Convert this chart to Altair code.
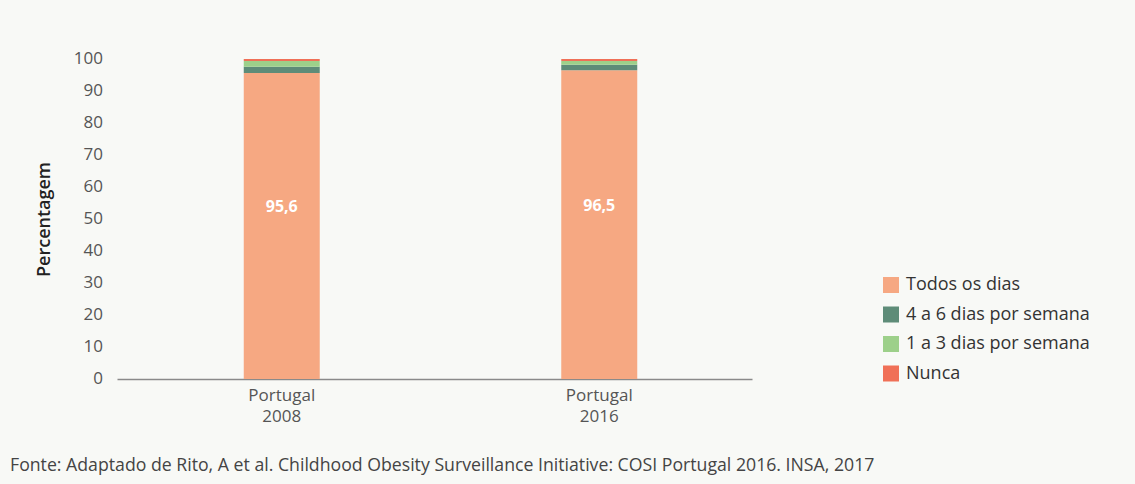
import altair as alt
import pandas as pd

groups = ["Portugal\n2008", "Portugal\n2016"]
categories = ["Todos os dias", "4 a 6 dias por semana", "1 a 3 dias por semana", "Nunca"]
colors = ["#F6A882", "#5E8C78", "#9DD08A", "#F07057"]
todos = [95.6, 96.5]
quatro_seis = [2.0, 1.7]
um_tres = [1.8, 1.2]
nunca = [0.6, 0.6]
y_ticks = list(range(0, 101, 10))

rows = []
for i, g in enumerate(groups):
    for k, (cat, vals) in enumerate(zip(categories, [todos, quatro_seis, um_tres, nunca])):
        rows.append({"grupo": g, "categoria": cat, "valor": vals[i], "ordem": k})
df = pd.DataFrame(rows)
lab = pd.DataFrame({"grupo": groups, "valor": todos,
                    "txt": [f"{v:.1f}".replace(".", ",") for v in todos]})
lab["meio"] = lab["valor"] / 2
ticks_df = pd.DataFrame({"t": y_ticks, "lbl": [str(v) for v in y_ticks]})

xscale = alt.Scale(paddingInner=0, paddingOuter=0)
xaxis = alt.Axis(labelExpr="split(datum.label, '\\n')", labelAngle=0,
                 labelFont="Open Sans", labelFontSize=17, labelColor="#555555",
                 labelLineHeight=21, labelPadding=8, ticks=False,
                 domainColor="#8A8A8A", domainWidth=1.5, labelOffset=6)
yscale = alt.Scale(domain=[0, 100], nice=False)
yaxis = alt.Axis(labels=False, grid=False, domain=False, ticks=False,
                 titleFont="Open Sans", titleFontSize=18,
                 titleFontWeight=600, titleColor="#222222", titlePadding=64)

bars = alt.Chart(df).mark_bar(size=76, xOffset=6).encode(
    x=alt.X("grupo:N", sort=groups, title=None, scale=xscale, axis=xaxis),
    y=alt.Y("valor:Q", stack="zero", title="Percentagem", scale=yscale, axis=yaxis),
    color=alt.Color("categoria:N", sort=categories, title=None,
                    scale=alt.Scale(domain=categories, range=colors),
                    legend=alt.Legend(orient="none", legendX=765, legendY=217,
                                      symbolType="square", symbolSize=256, symbolStrokeWidth=0,
                                      symbolOpacity=1, labelLimit=400,
                                      labelFont="Open Sans", labelFontSize=18, labelColor="#333333",
                                      rowPadding=11.5, labelOffset=6)),
    order=alt.Order("ordem:Q"),
)

ytick_labels = alt.Chart(ticks_df).mark_text(
    align="right", baseline="middle", font="Open Sans", fontSize=17, color="#555555",
).encode(
    x=alt.value(-14),
    y=alt.Y("t:Q", scale=yscale, axis=None),
    text="lbl:N",
)

texts = alt.Chart(lab).mark_text(color="white", font="Open Sans", fontSize=16,
                                 fontWeight="bold", dy=-19, dx=6).encode(
    x=alt.X("grupo:N", sort=groups, scale=xscale, axis=None),
    y=alt.Y("meio:Q", scale=yscale, axis=None),
    text="txt:N",
)

footer = alt.Chart(lab.head(1)).mark_text(
    align="left", baseline="middle", font="Open Sans", fontSize=17.7, color="#444444",
    text="Fonte: Adaptado de Rito, A et al. Childhood Obesity Surveillance Initiative: COSI Portugal 2016. INSA, 2017",
).encode(x=alt.value(-107), y=alt.value(407))

chart = alt.layer(bars, ytick_labels, texts, footer).resolve_axis(
    x="independent", y="independent").properties(
    width=635, height=320,
    autosize=alt.AutoSizeParams(type="none"),
    padding={"left": 117, "top": 59, "right": 383, "bottom": 105},
    background="#F8F9F6",
).configure_view(stroke=None)

chart.save("out.html", embed_options={"renderer": "svg", "actions": False})
